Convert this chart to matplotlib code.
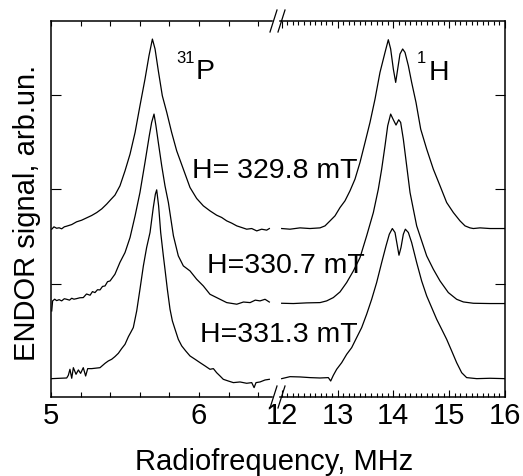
import matplotlib
matplotlib.use('Agg')
import matplotlib.pyplot as plt
from matplotlib.lines import Line2D
from matplotlib.ticker import FixedLocator

plt.rcParams['font.family'] = ['Liberation Sans', 'DejaVu Sans']

# ---------------- data (MHz, arb. units) ----------------
# 31P region, H = 329.8 mT
freq_p_top = [5.005,5.020,5.038,5.055,5.072,5.090,5.106,5.140,5.173,5.207,5.241,5.275,5.309,5.343,5.376,5.405,5.432,5.466,5.500,5.534,5.568,5.601,5.635,5.662,5.685,5.703,5.725,5.752,5.782,5.815,5.849,5.894,5.939,5.984,6.029,6.074,6.119,6.153,6.187,6.221,6.255,6.288,6.322,6.356,6.390,6.423,6.457,6.475]
sig_p_top = [15.80,16.05,15.90,15.95,15.84,16.05,16.12,16.29,16.58,16.75,17.00,17.25,17.56,17.95,18.45,18.95,19.40,20.39,21.97,23.74,26.03,28.85,31.67,34.14,35.90,34.85,32.55,29.91,28.15,26.03,24.09,22.15,20.21,19.05,18.27,17.74,17.28,17.04,16.68,16.44,16.15,15.98,15.80,15.87,15.62,15.80,15.70,15.87]
# 31P region, H = 330.7 mT
freq_p_mid = [5.005,5.011,5.025,5.038,5.055,5.072,5.090,5.106,5.125,5.140,5.155,5.173,5.195,5.218,5.240,5.264,5.280,5.297,5.314,5.331,5.348,5.365,5.382,5.399,5.432,5.466,5.500,5.534,5.568,5.601,5.635,5.664,5.680,5.696,5.709,5.725,5.748,5.770,5.793,5.827,5.860,5.894,5.939,5.984,6.029,6.074,6.119,6.187,6.255,6.300,6.345,6.380,6.412,6.446,6.475]
sig_p_mid = [7.16,8.22,8.40,8.25,8.35,8.22,8.45,8.39,8.30,8.50,8.40,8.46,8.55,8.57,8.95,8.82,9.20,9.10,9.40,9.38,9.75,9.80,10.25,10.33,11.04,12.30,13.33,14.92,17.21,19.68,22.86,25.68,27.09,27.97,26.73,24.97,22.50,20.39,18.62,15.10,12.98,11.92,11.39,10.51,9.80,8.92,8.57,8.04,7.87,8.10,8.04,8.30,8.22,8.39,8.10]
# 31P region, H = 331.3 mT
freq_p_bot = [5.005,5.061,5.106,5.117,5.128,5.140,5.151,5.169,5.185,5.200,5.218,5.234,5.248,5.275,5.331,5.365,5.387,5.410,5.432,5.455,5.477,5.500,5.523,5.538,5.556,5.579,5.601,5.624,5.646,5.669,5.691,5.705,5.714,5.727,5.741,5.759,5.770,5.786,5.804,5.820,5.838,5.860,5.883,5.910,5.939,5.973,6.007,6.041,6.074,6.097,6.119,6.142,6.164,6.198,6.232,6.277,6.322,6.356,6.372,6.385,6.412,6.446,6.475]
sig_p_bot = [0,0.04,0.07,0.35,0.99,0.04,1.16,0.46,0.92,0.56,1.16,0.28,1.06,1.06,1.16,1.62,1.87,2.05,2.33,2.68,3.17,3.63,4.44,4.87,5.40,7.16,9.45,11.92,13.86,15.45,18.09,19.50,19.96,18.27,15.45,12.98,11.57,9.45,7.34,6.10,5.22,4.16,3.46,2.93,2.40,2.05,1.69,1.34,0.99,1.06,0.63,0.28,-0.07,-0.25,-0.42,-0.35,-0.49,-0.42,-0.95,-0.42,-0.35,-0.14,-0.07]

# 1H region
freq_h_top = [12.000,12.149,12.328,12.507,12.687,12.776,12.866,12.955,13.045,13.134,13.224,13.313,13.403,13.493,13.582,13.672,13.761,13.851,13.910,13.952,14.000,14.042,14.078,14.119,14.167,14.209,14.269,14.328,14.406,14.490,14.597,14.716,14.836,14.955,15.075,15.194,15.284,15.373,15.433,15.552,15.731,16.000]
sig_h_top = [15.87,15.80,15.94,15.87,15.94,16.15,16.68,17.21,18.09,18.80,19.86,21.09,22.86,24.97,27.09,29.56,32.38,34.49,35.83,34.85,32.73,31.32,32.73,34.32,34.85,34.49,33.08,31.32,29.20,26.38,24.27,22.15,20.39,18.62,17.56,16.68,16.15,15.94,15.87,15.94,15.87,15.87]
freq_h_mid = [12.000,12.209,12.448,12.687,12.806,12.925,13.045,13.164,13.284,13.403,13.522,13.642,13.731,13.791,13.851,13.899,13.952,14.000,14.048,14.096,14.131,14.179,14.239,14.299,14.358,14.418,14.507,14.597,14.716,14.836,14.985,15.134,15.254,15.433,15.731,16.000]
sig_h_mid = [7.97,7.94,8.01,8.04,8.22,8.57,9.17,10.16,11.39,12.80,15.10,17.56,20.03,22.15,24.62,26.73,27.97,27.37,26.81,27.37,27.09,25.32,22.50,19.68,17.92,16.15,14.57,12.98,11.57,10.33,9.10,8.39,8.11,7.97,7.94,7.94]
freq_h_bot = [12.000,12.149,12.328,12.507,12.687,12.836,12.878,12.925,12.985,13.075,13.164,13.254,13.343,13.433,13.522,13.612,13.701,13.791,13.869,13.928,13.982,14.030,14.072,14.101,14.137,14.179,14.215,14.269,14.328,14.418,14.507,14.597,14.687,14.776,14.866,14.955,15.045,15.134,15.224,15.313,15.493,15.731,16.000]
sig_h_bot = [0,0.21,0.18,0.11,0.07,0.11,-0.25,0.35,0.99,1.69,2.57,3.28,4.34,5.40,6.81,8.39,10.16,12.27,14.04,15.27,15.87,15.45,14.04,13.05,13.86,15.27,15.80,15.45,14.39,12.27,10.33,8.75,7.51,6.28,5.22,4.16,2.93,1.69,0.63,0.11,0,0.04,0]

left_major = [5, 6]
left_minor = [5.2, 5.4, 5.6, 5.8, 6.2, 6.4]
right_major = [12, 13, 14, 15, 16]
right_minor = [12.1,12.2,12.3,12.4,12.5,12.6,12.7,12.8,12.9,13.1,13.2,13.3,13.4,13.5,13.6,13.7,13.8,13.9,
               14.1,14.2,14.3,14.4,14.5,14.6,14.7,14.8,14.9,15.1,15.2,15.3,15.4,15.5,15.6,15.7,15.8,15.9]
y_ticks = [10, 20, 30]

field_labels = ['H= 329.8 mT', 'H=330.7 mT', 'H=331.3 mT']

# ---------------- figure ----------------
W, H = 523, 477
fig = plt.figure(figsize=(W / 100, H / 100), dpi=100)

def fx(px):
    return px / W

def fy(py):
    return 1 - py / H

ax_top, ax_bot = 22, 398
ax1 = fig.add_axes([fx(51), fy(ax_bot), (272 - 51) / W, (ax_bot - ax_top) / H])
ax2 = fig.add_axes([fx(280), fy(ax_bot), (505 - 280) / W, (ax_bot - ax_top) / H])

lw = 0.9
for fr, sg in [(freq_p_top, sig_p_top), (freq_p_mid, sig_p_mid), (freq_p_bot, sig_p_bot)]:
    ax1.plot(fr, sg, color='black', lw=lw)
for fr, sg in [(freq_h_top, sig_h_top), (freq_h_mid, sig_h_mid), (freq_h_bot, sig_h_bot)]:
    ax2.plot(fr, sg, color='black', lw=lw)

ylim = (-1.94, 37.81)
ax1.set_xlim(5, 6.493)
ax2.set_xlim(11.97, 16)
for ax in (ax1, ax2):
    ax.set_ylim(*ylim)
    for s in ax.spines.values():
        s.set_linewidth(1.1)

ax1.spines['right'].set_visible(False)
ax2.spines['left'].set_visible(False)

ax1.set_xticks(left_major)
ax1.set_xticklabels([str(v) for v in left_major])
ax1.xaxis.set_minor_locator(FixedLocator(left_minor))
ax1.tick_params(axis='x', which='both', direction='in', top=True, bottom=True,
                length=3.6, width=0.8, labelsize=21, pad=3)
ax1.set_yticks(y_ticks)
ax1.set_yticklabels([])
ax1.tick_params(axis='y', which='both', direction='in', left=True, right=False,
                length=7.2, width=0.8)

ax2.set_xticks(right_major)
ax2.set_xticklabels([str(v) for v in right_major])
ax2.xaxis.set_minor_locator(FixedLocator(right_minor))
ax2.tick_params(axis='x', which='major', direction='in', top=True, bottom=True,
                length=5, width=0.8, labelsize=21, pad=3)
ax2.tick_params(axis='x', which='minor', direction='in', top=True, bottom=True,
                length=3.2, width=0.8)
ax2.set_yticks(y_ticks)
ax2.set_yticklabels([])
ax2.tick_params(axis='y', which='both', direction='in', left=False, right=True,
                length=7.2, width=0.8)

# break marks
for s in (ax_top, ax_bot):
    for x0 in (270, 278):
        fig.add_artist(Line2D([fx(x0), fx(x0 + 7)], [fy(s + 11), fy(s - 11)],
                              transform=fig.transFigure, color='black', lw=0.9))

# labels
fig.text(fx(274), fy(470), 'Radiofrequency, MHz', fontsize=21, ha='center', va='baseline')
fig.text(fx(35), fy(212.5), 'ENDOR signal, arb.un.', fontsize=21, rotation=90,
         rotation_mode='anchor', ha='center', va='baseline')

# annotations
fig.text(fx(192), fy(178), field_labels[0], fontsize=20.5, va='baseline')
fig.text(fx(207), fy(273), field_labels[1], fontsize=20.5, va='baseline')
fig.text(fx(200), fy(342), field_labels[2], fontsize=20.5, va='baseline')
fig.text(fx(176), fy(63), '31', fontsize=12, va='baseline')
fig.text(fx(196), fy(79), 'P', fontsize=20.5, va='baseline')
fig.text(fx(417), fy(63), '1', fontsize=12, va='baseline')
fig.text(fx(429), fy(80), 'H', fontsize=20.5, va='baseline')

fig.savefig('out.png', dpi=100)
